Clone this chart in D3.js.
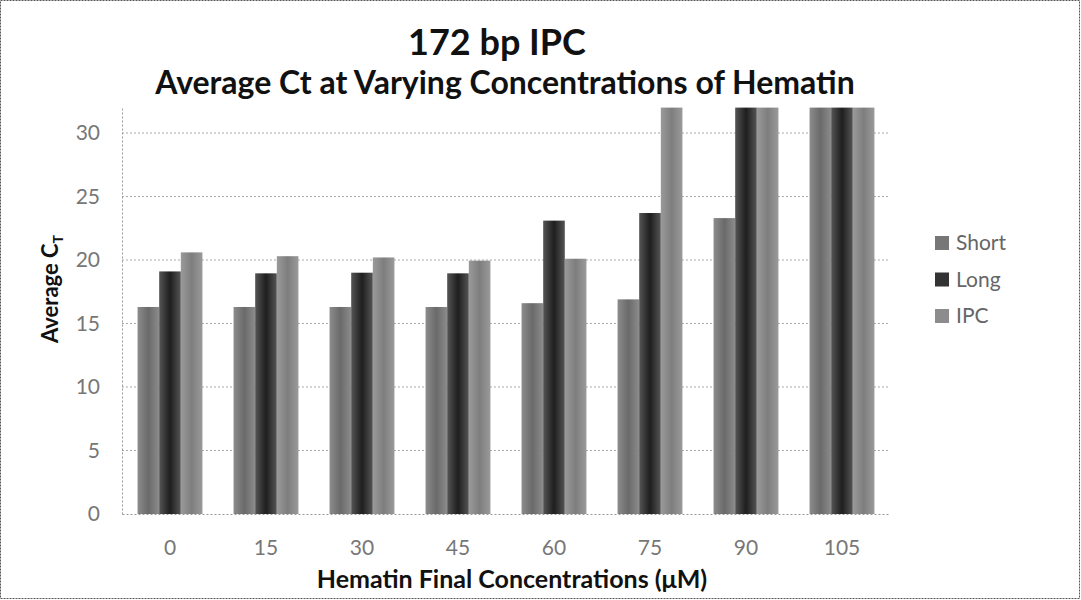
<!DOCTYPE html>
<html>
<head>
    <meta charset="utf-8">
    <script src="https://d3js.org/d3.v7.min.js"></script>
    <style>
        body { margin: 0; background: #fff; }
        text { font-family: Lato, "Open Sans", sans-serif; }
    </style>
</head>
<body>
    <svg id="chart" width="1081" height="600"></svg>
    <script>
        // values
        var categories = ['0', '15', '30', '45', '60', '75', '90', '105']
        var seriesNames = ['Short', 'Long', 'IPC']
        var shortVals = [16.3, 16.3, 16.3, 16.3, 16.6, 16.9, 23.3, 32]
        var longVals = [19.1, 18.95, 19.0, 18.95, 23.1, 23.7, 32, 32]
        var ipcVals = [20.6, 20.3, 20.2, 19.95, 20.1, 32, 32, 32]
        var yTicks = [0, 5, 10, 15, 20, 25, 30]

        var seriesVals = [shortVals, longVals, ipcVals]

        var svg = d3.select('#chart')
        // note: "top" is taken by window.top, so plotTop
        var plotLeft = 122, plotRight = 890, plotTop = 107.6, plotBottom = 514

        // gradients that mimic the excel bar shading
        var defs = svg.append('defs')
        var grads = [
            ['gShort', '#8c8c8c', '#6a6a6a'],
            ['gLong', '#555555', '#1e1e1e'],
            ['gIPC', '#9a9a9a', '#7e7e7e']
        ]
        grads.forEach(function(g) {
            var lg = defs.append('linearGradient').attr('id', g[0])
                .attr('x1', '0%').attr('x2', '100%').attr('y1', '0%').attr('y2', '0%')
            lg.append('stop').attr('offset', '0%').attr('stop-color', g[1])
            lg.append('stop').attr('offset', '50%').attr('stop-color', g[2])
            lg.append('stop').attr('offset', '100%').attr('stop-color', g[1])
        })
        var fills = ['url(#gShort)', 'url(#gLong)', 'url(#gIPC)']
        var legendFills = ['#777', '#333', '#8c8c8c']

        // outer border
        svg.append('rect')
            .attr('x', 0.5).attr('y', 0.5).attr('width', 1079).attr('height', 598)
            .attr('fill', 'none').attr('stroke', '#555').attr('stroke-dasharray', '2,1')

        var x0 = d3.scaleBand().domain(categories).range([plotLeft, plotRight])
        var x1 = d3.scaleBand().domain(seriesNames).range([0, x0.bandwidth()]).paddingOuter(0.72).paddingInner(0)
        var y = d3.scaleLinear().domain([0, 32]).range([plotBottom, plotTop])

        // gridlines
        svg.append('g').selectAll('line')
            .data(yTicks.filter(function(d) { return d > 0 }))
            .enter().append('line')
            .attr('x1', plotLeft).attr('x2', plotRight)
            .attr('y1', function(d) { return y(d) }).attr('y2', function(d) { return y(d) })
            .attr('stroke', '#aaa').attr('stroke-dasharray', '2,2')

        // bars
        var groups = svg.append('g').selectAll('g')
            .data(categories)
            .enter().append('g')
            .attr('transform', function(d) { return 'translate(' + x0(d) + ',0)' })

        groups.selectAll('rect')
            .data(function(d, i) {
                return seriesNames.map(function(s, k) { return { s: s, k: k, v: seriesVals[k][i] } })
            })
            .enter().append('rect')
            .attr('x', function(d) { return x1(d.s) })
            .attr('width', x1.bandwidth())
            .attr('y', function(d) { return y(d.v) })
            .attr('height', function(d) { return y(0) - y(d.v) })
            .attr('fill', function(d) { return fills[d.k] })

        // axes
        var yAxis = d3.axisLeft(y).tickValues(yTicks).tickSize(0).tickPadding(22)
        var gy = svg.append('g').attr('transform', 'translate(' + plotLeft + ',0)').call(yAxis)
        gy.select('.domain').attr('stroke', '#999').attr('stroke-dasharray', '2,2')
        gy.selectAll('text').attr('font-size', 21).attr('fill', '#777')

        var xAxis = d3.axisBottom(x0).tickSize(0).tickPadding(26)
        var gx = svg.append('g').attr('transform', 'translate(0,' + plotBottom + ')').call(xAxis)
        gx.select('.domain').attr('stroke', '#999').attr('stroke-dasharray', '2,2')
        gx.selectAll('text').attr('font-size', 21).attr('fill', '#777')

        // titles
        svg.append('text').attr('x', 497).attr('y', 55).attr('text-anchor', 'middle')
            .attr('font-size', 36).attr('font-weight', 'bold').attr('fill', '#111')
            .text('172 bp IPC')
        svg.append('text').attr('x', 505).attr('y', 94).attr('text-anchor', 'middle')
            .attr('font-size', 32).attr('font-weight', 'bold').attr('fill', '#111')
            .text('Average Ct at Varying Concentrations of Hematin')
        svg.append('text').attr('x', 512).attr('y', 588).attr('text-anchor', 'middle')
            .attr('font-size', 25).attr('font-weight', 'bold').attr('fill', '#111')
            .text('Hematin Final Concentrations (\u03bcM)')

        var yt = svg.append('text')
            .attr('transform', 'translate(58,289) rotate(-90)')
            .attr('text-anchor', 'middle')
            .attr('font-size', 22).attr('font-weight', 'bold').attr('fill', '#111')
        yt.append('tspan').text('Average C')
        yt.append('tspan').attr('font-size', 14).attr('dy', 5).text('T')

        // legend
        var legend = svg.append('g').selectAll('g')
            .data(seriesNames)
            .enter().append('g')
            .attr('transform', function(d, i) { return 'translate(935,' + (243 + i * 36.5) + ')' })
        legend.append('rect').attr('x', 0).attr('y', -7).attr('width', 14).attr('height', 14)
            .attr('fill', function(d, i) { return legendFills[i] })
        legend.append('text').attr('x', 21).attr('y', 7).attr('font-size', 21).attr('fill', '#666')
            .text(function(d) { return d })
    </script>
</body>
</html>
